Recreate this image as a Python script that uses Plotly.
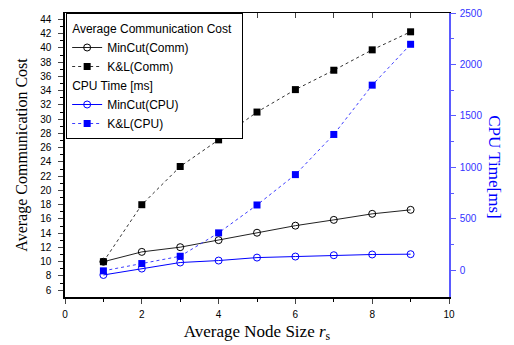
import plotly.graph_objects as go

x_vals = [1, 2, 3, 4, 5, 6, 7, 8, 9]
mincut_comm = [10.0, 11.38, 12.04, 13.03, 14.07, 15.06, 15.87, 16.72, 17.28]
kl_comm = [10.0, 18.0, 23.36, 27.1, 31.0, 34.15, 36.87, 39.73, 42.26]
mincut_cpu = [-45, 17, 76, 95, 124, 134, 147, 154, 157]
kl_cpu = [-5, 66, 137, 364, 635, 930, 1320, 1799, 2196]

BLUE = "#0000ff"
AXBLUE = "#5a5aff"
SANS = "Liberation Sans, Arial"
SERIF = "Liberation Serif, Times New Roman"

fig = go.Figure()
fig.add_trace(go.Scatter(
    x=x_vals, y=mincut_comm, name="MinCut(Comm)", mode="lines+markers",
    line=dict(color="#222222", width=1),
    marker=dict(symbol="circle-open", size=7, color="black", line=dict(width=1)),
    legendgroup="comm", legendgrouptitle=dict(text="Average Communication Cost"),
))
fig.add_trace(go.Scatter(
    x=x_vals, y=kl_comm, name="K&L(Comm)", mode="lines+markers",
    line=dict(color="#333333", width=1, dash="3px,3px"),
    marker=dict(symbol="square", size=7, color="black"),
    legendgroup="comm",
))
fig.add_trace(go.Scatter(
    x=x_vals, y=mincut_cpu, name="MinCut(CPU)", mode="lines+markers", yaxis="y2",
    line=dict(color=BLUE, width=1),
    marker=dict(symbol="circle-open", size=7, color=BLUE, line=dict(width=1)),
    legendgroup="cpu", legendgrouptitle=dict(text="CPU Time [ms]"),
))
fig.add_trace(go.Scatter(
    x=x_vals, y=kl_cpu, name="K&L(CPU)", mode="lines+markers", yaxis="y2",
    line=dict(color="#3d3dff", width=1, dash="3px,3px"),
    marker=dict(symbol="square", size=7, color=BLUE),
    legendgroup="cpu",
))
# invisible trace to activate top axis
fig.add_trace(go.Scatter(x=[0, 10], y=[None, None], xaxis="x2", showlegend=False,
                         hoverinfo="skip"))

tickfont = dict(family=SANS, size=10, color="black")
fig.update_layout(
    width=514, height=345,
    margin=dict(l=65, r=65, t=13, b=48, autoexpand=False),
    paper_bgcolor="white", plot_bgcolor="white",
    showlegend=True,
    legend=dict(x=0.003, y=1.0, xanchor="left", yanchor="top",
                bordercolor="black", borderwidth=1, bgcolor="white",
                font=dict(family=SANS, size=12, color="black"),
                grouptitlefont=dict(family=SANS, size=12, color="black"),
                tracegroupgap=0, itemwidth=30),
    xaxis=dict(range=[0, 10], dtick=2, tick0=0, ticks="outside", ticklen=5,
               showline=True, linecolor="black", linewidth=1.5, showgrid=False,
               zeroline=False, tickfont=tickfont, ticklabelstandoff=2,
               minor=dict(dtick=1, ticks="outside", ticklen=3, tickcolor="black"),
               title=dict(text="Average Node Size <i>r</i><sub>s</sub>",
                          font=dict(family=SERIF, size=17, color="black"),
                          standoff=6)),
    xaxis2=dict(range=[0, 10], overlaying="x", side="top", anchor="y",
                dtick=1, ticks="inside", ticklen=5, showticklabels=False,
                showline=True, linecolor="black", linewidth=1, showgrid=False,
                zeroline=False),
    yaxis=dict(range=[5.05, 44.9], dtick=2, tick0=0, ticks="outside", ticklen=5,
               showline=True, linecolor="black", linewidth=1.5, showgrid=False,
               zeroline=False, tickfont=tickfont, ticklabelstandoff=5,
               minor=dict(dtick=1, ticks="outside", ticklen=3, tickcolor="black"),
               title=dict(text="Average Communication Cost",
                          font=dict(family=SERIF, size=16, color="black"),
                          standoff=9)),
    yaxis2=dict(range=[-259, 2500], overlaying="y", side="right", anchor="x",
                tickvals=[0, 500, 1000, 1500, 2000, 2500], ticks="outside", ticklen=5,
                tickcolor=AXBLUE, ticklabelstandoff=2,
                showline=True, linecolor=AXBLUE, linewidth=1.5, showgrid=False,
                zeroline=False,
                tickfont=dict(family=SANS, size=10, color="#3333ff"),
                minor=dict(tickvals=[250, 750, 1250, 1750, 2250], ticks="outside",
                           ticklen=3, tickcolor=AXBLUE)),
    annotations=[dict(text="CPU Time[ms]", xref="paper", yref="paper", x=1.12, y=0.46,
                      xanchor="center", yanchor="middle",
                      textangle=90, showarrow=False,
                      font=dict(family=SERIF, size=17, color=BLUE))],
)

fig.write_html("out.html", config={"displayModeBar": False},
               post_script="document.body.style.margin='0';document.body.style.padding='0';")
